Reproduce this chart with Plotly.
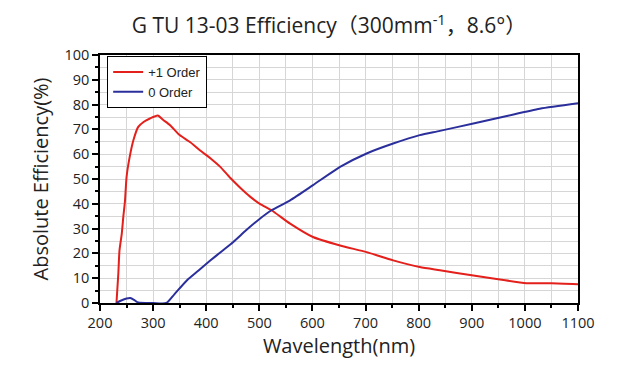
import plotly.graph_objects as go

order1_wl = [231, 234.5, 236.7, 241, 244, 247, 250, 256, 263, 272, 282, 294, 309, 318, 332, 350, 370, 388, 410, 426, 445, 464, 482, 501, 523, 558, 601, 652, 702, 752, 802, 840, 903, 953, 1003, 1050, 1100]
order1_eff = [0, 11.8, 21.2, 28, 35, 41, 50.8, 59, 65.7, 71, 73, 74.4, 75.6, 74, 71.7, 67.7, 64.8, 61.6, 58, 55, 50.5, 46.5, 43, 40, 37.4, 32, 26.6, 23.2, 20.5, 17.2, 14.5, 13.2, 11.1, 9.5, 8, 8, 7.6]

order0_wl = [231, 240, 250, 257, 264, 272, 300, 325, 340, 363, 385, 407, 430, 451, 475, 501, 523, 558, 601, 652, 702, 752, 802, 840, 903, 966, 1028, 1100]
order0_eff = [0, 1, 1.8, 2, 1.3, 0.2, 0, 0, 3.5, 9, 13, 17, 21, 24.6, 29.3, 34, 37.4, 41.4, 47.5, 54.9, 60.3, 64.3, 67.7, 69.4, 72.4, 75.4, 78.3, 80.5]

title_text = "G TU 13-03 Efficiency（300mm<sup>-1</sup>，8.6°）"
x_title = "Wavelength(nm)"
y_title = "Absolute Efficiency(%)"

# The page body has an 8px default margin, so the figure is sized to fit from (8, 8).
W, H = 612, 362

fig = go.Figure()
fig.add_trace(go.Scatter(x=order1_wl, y=order1_eff, mode="lines", name="+1 Order",
                         line=dict(color="#e3201b", width=2, shape="spline", smoothing=0.6)))
fig.add_trace(go.Scatter(x=order0_wl, y=order0_eff, mode="lines", name="0 Order",
                         line=dict(color="#2b2f9c", width=2, shape="spline", smoothing=0.6)))

axis_font = dict(family="Open Sans, Noto Sans CJK SC", size=14.5, color="#222")
title_font = dict(family="Open Sans, Noto Sans CJK SC", size=20, color="#222")
fig.update_layout(
    width=W, height=H,
    margin=dict(l=92, r=42, t=47, b=67),
    paper_bgcolor="white", plot_bgcolor="white",
    title=dict(text=title_text, x=(329 - 8) / W, xanchor="center", xref="container",
               y=1 - 18 / H, yanchor="middle", yref="container",
               font=dict(family="Open Sans, Noto Sans CJK SC", size=21, color="#222")),
    legend=dict(x=0.015, y=0.996, xanchor="left", yanchor="top",
                bordercolor="black", borderwidth=1, bgcolor="white",
                font=dict(family="Liberation Sans, Arial", size=13, color="#222"),
                tracegroupgap=0),
    showlegend=True,
)
fig.update_xaxes(range=[200, 1100], dtick=100, tick0=200, showline=True, linecolor="black", linewidth=1.5,
                 mirror=True, ticks="outside", ticklen=6, tickwidth=1.5, tickcolor="black",
                 showgrid=True, gridcolor="#d6d6d6", gridwidth=1, zeroline=False,
                 minor=dict(dtick=50, showgrid=True, gridcolor="#d6d6d6", ticks="outside", ticklen=3, tickcolor="black"),
                 tickfont=axis_font,
                 title=dict(text=x_title, font=title_font, standoff=7))
fig.update_yaxes(range=[0, 100], dtick=10, showline=True, linecolor="black", linewidth=1.5,
                 mirror=True, ticks="outside", ticklen=6, tickwidth=1.5, tickcolor="black",
                 showgrid=True, gridcolor="#d6d6d6", gridwidth=1, zeroline=False,
                 minor=dict(dtick=5, showgrid=True, gridcolor="#d6d6d6", ticks="outside", ticklen=3, tickcolor="black"),
                 tickfont=axis_font,
                 title=dict(text=y_title, font=title_font, standoff=10))

fig.write_html("out.html")
